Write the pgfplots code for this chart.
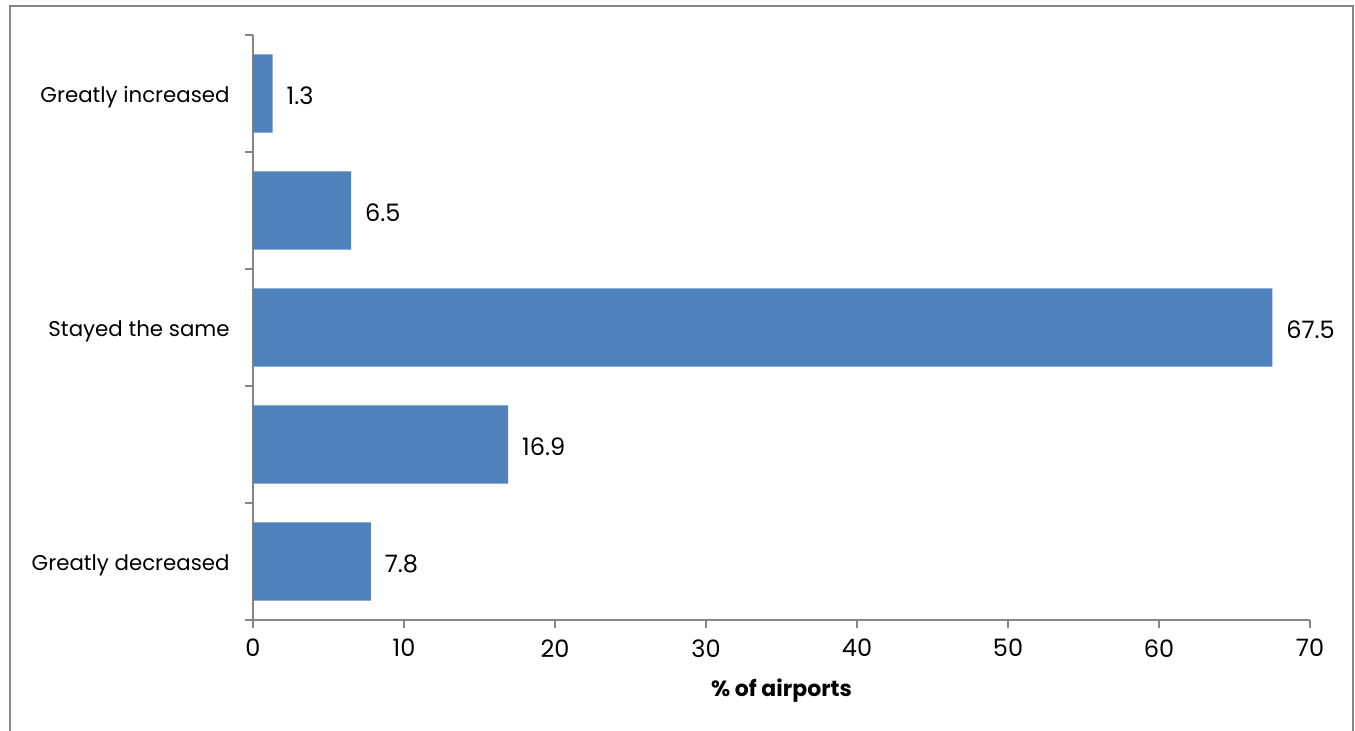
\documentclass[border=0pt]{standalone}
\usepackage{fontspec}
\setmainfont{Poppins}
\usepackage{pgfplots}
\pgfplotsset{compat=1.18}
\definecolor{barblue}{RGB}{79,129,189}
\definecolor{axisgray}{RGB}{134,134,134}
\begin{document}
\begin{tikzpicture}[x=0.75bp,y=0.75bp,font=\fontsize{16bp}{19bp}\selectfont]
\useasboundingbox (0,0) rectangle (1355,730);
% outer frame
\draw[axisgray, line width=1.5bp] (10,-5) -- (10,724) -- (1353,724) -- (1353,-5);
\begin{axis}[
  at={(189.75bp,82.5bp)}, anchor=south west,
  scale only axis, width=792.75bp, height=438.75bp,
  xbar, bar width=0.667,
  xmin=0, xmax=70, ymin=0.5, ymax=5.5,
  clip=false,
  axis x line*=bottom, axis y line*=left,
  axis line style={axisgray, line width=1.5bp, -},
  xtick={0,10,...,70},
  ytick={0.5,1.5,...,5.5}, yticklabels={},
  extra y ticks={1,3,5},
  extra y tick labels={Greatly decreased, Stayed the same, Greatly increased},
  extra y tick style={major tick length=0pt,
    yticklabel style={xshift=-14bp, yshift=-3bp}},
  tick align=outside, major tick length=6bp,
  tick style={axisgray, line width=1.5bp},
  /pgf/number format/assume math mode=true,
  ticklabel style={font=\fontsize{16bp}{19bp}\selectfont, text=black},
  xticklabel style={yshift=-5bp, font=\fontsize{18bp}{21bp}\selectfont},
  xlabel={\textbf{\% of airports}},
  xlabel style={at={(axis description cs:0.5,0)}, anchor=center, yshift=-53bp,
                font=\fontsize{16.5bp}{19bp}\selectfont},
  point meta=x,
  nodes near coords={\pgfmathprintnumber[fixed,fixed zerofill,precision=1,assume math mode=true]{\pgfplotspointmeta}},
  every node near coord/.append style={anchor=west, xshift=7bp, yshift=-1.5bp,
    font=\fontsize{18bp}{21bp}\selectfont, text=black},
]
\addplot[fill=barblue, draw=none] coordinates {
  (7.8,1) (16.9,2) (67.5,3) (6.5,4) (1.3,5)
};
\end{axis}
\end{tikzpicture}
\end{document}
